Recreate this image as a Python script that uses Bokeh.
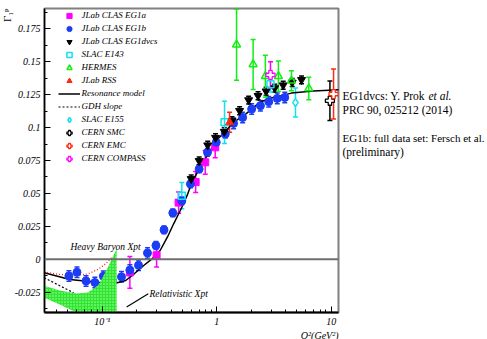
import math
from bokeh.plotting import figure
from bokeh.layouts import row
from bokeh.models import (ColumnDataSource, Whisker, TeeHead, Span, Label, Legend, LegendItem,
                          FixedTicker, CustomJSTickFormatter, Range1d, Title)
from bokeh.embed import file_html
from bokeh.resources import INLINE

# ---------------- data ----------------
eg1a_q2 = [0.174, 0.298, 0.464, 0.654, 0.793, 0.970]
eg1a_g = [-0.010, 0.003, 0.043, 0.0586, 0.0736, 0.085]
eg1a_err = [0.012, 0.009, 0.008, 0.008, 0.009, 0.008]

eg1b_q2 = [0.051, 0.060, 0.072, 0.086, 0.102, 0.123, 0.147, 0.174, 0.207, 0.248,
           0.294, 0.346, 0.413, 0.495, 0.589, 0.702, 0.830, 0.990, 1.187, 1.404,
           1.684, 2.02, 2.41, 2.85, 3.38, 3.93]
eg1b_g = [-0.0127, -0.0099, -0.0165, -0.0177, -0.0129, -0.0167, -0.0134, -0.0083, -0.0046, 0.0047,
          0.0104, 0.0223, 0.0352, 0.0443, 0.0572, 0.0686, 0.0812, 0.0888, 0.0951, 0.1032,
          0.1077, 0.1141, 0.1166, 0.1197, 0.1222, 0.1229]
eg1b_err = [0.004, 0.004, 0.004, 0.004, 0.004, 0.004, 0.004, 0.004, 0.004, 0.004,
            0.003, 0.003, 0.003, 0.003, 0.003, 0.003, 0.003, 0.003, 0.003, 0.004,
            0.004, 0.004, 0.004, 0.004, 0.004, 0.004]

dvcs_q2 = [0.598, 0.702, 0.834, 0.976, 1.164, 1.359, 1.585, 1.901, 2.298, 2.701,
           3.214, 3.808, 4.566, 5.511]
dvcs_g = [0.0610, 0.0747, 0.0866, 0.0923, 0.0969, 0.1052, 0.1128, 0.1209, 0.1242, 0.1276,
          0.1300, 0.1322, 0.1343, 0.1363]
dvcs_err = [0.003] * 14

e143_q2 = [0.495, 1.17, 2.95]
e143_g = [0.0483, 0.104, 0.133]
e143_err = [0.010, 0.016, 0.006]

hermes_q2 = [1.49, 2.08, 2.66, 3.46, 4.50, 6.38]
hermes_g = [0.163, 0.148, 0.139, 0.139, 0.1356, 0.1297]
hermes_err = [0.027, 0.019, 0.016, 0.0116, 0.0076, 0.0085]

rss_q2 = [1.295]
rss_g = [0.104]
rss_err = [0.0076]

e155_q2 = [4.88]
e155_g = [0.119]
e155_err = [0.011]

smc_q2 = [9.76]
smc_g = [0.1204]
smc_err = [0.015]

emc_q2 = [10.5]
emc_g = [0.1255]
emc_err = [0.019]

compass_q2 = [2.95]
compass_g = [0.140]
compass_err = [0.010]

res_q2 = [0.031, 0.052, 0.077, 0.10, 0.13, 0.16, 0.19, 0.23, 0.27, 0.32, 0.37, 0.42, 0.48,
          0.55, 0.60, 0.70, 0.85, 1.0, 1.19, 1.4, 1.78, 2.4, 3.0, 4.5, 7.0, 12.0]
res_g = [-0.0103, -0.0154, -0.0169, -0.0179, -0.0182, -0.0162, -0.0111, -0.0048, 0.0, 0.0066,
         0.0167, 0.0269, 0.0370, 0.0483, 0.0572, 0.0686, 0.0804, 0.0906, 0.097, 0.104,
         0.110, 0.1195, 0.1225, 0.1262, 0.1278, 0.1288]

gdh_q2 = [0.031, 0.056]
gdh_g = [-0.0141, -0.0255]

maid_q2 = [0.031, 0.0424, 0.0574, 0.0746, 0.0914, 0.1074, 0.121]
maid_g = [-0.0097, -0.0116, -0.0124, -0.0112, -0.0078, -0.0033, 0.0013]

hb_q2 = [0.0305, 0.0424, 0.0594, 0.0747, 0.0920, 0.1116, 0.1333]
hb_hi = [-0.0200, -0.0237, -0.0260, -0.0253, -0.0200, -0.0063, 0.0080]
hb_lo = [-0.0288, -0.0345, -0.0405, -0.048, -0.05, -0.05, -0.05]

rel_q2 = [0.163, 0.252]
rel_g = [-0.0364, -0.0263]

y_ticks = [-0.025, 0.0, 0.025, 0.05, 0.075, 0.1, 0.125, 0.15, 0.175]
y_minor = [-0.0375, -0.0125, 0.0125, 0.0375, 0.0625, 0.0875, 0.1125, 0.1375, 0.1625, 0.1875]
x_ticks = [0.1, 1.0, 10.0]
x_minor = [0.04, 0.05, 0.06, 0.07, 0.08, 0.09, 0.2, 0.3, 0.4, 0.5, 0.6, 0.7, 0.8, 0.9,
           2, 3, 4, 5, 6, 7, 8, 9]

# ---------------- colours ----------------
MAG = "#ff00ff"
BLUE = "#1c3cf5"
CYAN = "#10e0f0"
GREEN = "#11ee11"
RED = "#ff2a10"
BLK = "#000000"
SERIF = "Liberation Serif"

p = figure(width=340, height=339, x_axis_type="log",
           x_range=Range1d(0.0312, 11.6), y_range=Range1d(-0.0405, 0.1905),
           output_backend="svg", toolbar_location=None,
           min_border_left=44, min_border_right=2, min_border_top=8, min_border_bottom=27)
p.xgrid.visible = False
p.ygrid.visible = False
p.outline_line_color = "#808080"
p.outline_line_width = 2
p.background_fill_color = "white"
p.border_fill_color = "white"

for ax in (p.xaxis[0], p.yaxis[0]):
    ax.major_tick_in = 6
    ax.major_tick_out = 0
    ax.minor_tick_in = 3
    ax.minor_tick_out = 0
    ax.axis_line_color = "black"
    ax.major_tick_line_color = "black"
    ax.minor_tick_line_color = "black"
    ax.major_label_text_font = SERIF
    ax.major_label_text_font_style = "italic"
    ax.major_label_text_font_size = "10px"
    ax.major_label_text_color = "black"
p.yaxis[0].axis_line_width = 1.5
p.xaxis[0].axis_line_width = 2
p.yaxis[0].major_label_standoff = 4
p.xaxis[0].major_label_standoff = 3

p.yaxis[0].ticker = FixedTicker(ticks=y_ticks, minor_ticks=y_minor)
p.xaxis[0].ticker = FixedTicker(ticks=x_ticks, minor_ticks=x_minor)
p.yaxis[0].formatter = CustomJSTickFormatter(code="""
if (Math.abs(tick) < 1e-9) return "0";
return String(parseFloat(tick.toFixed(4)));
""")
p.xaxis[0].formatter = CustomJSTickFormatter(code="""
const e = Math.round(Math.log10(tick));
if (e == -1) return "10\u207b\u00b9";
if (e == 0) return "1";
if (e == 1) return "10";
return "";
""")

# axis titles, right / top aligned like ROOT
p.add_layout(Title(text="Q\u00b2(GeV\u00b2)", align="right", standoff=-4, offset=0,
                   text_font=SERIF, text_font_style="italic", text_font_size="10px",
                   text_color="black"), "below")
p.add_layout(Title(text="\u0393\u2081\u1d56", align="right", standoff=-3, offset=0,
                   text_font=SERIF, text_font_style="normal", text_font_size="11px",
                   text_color="black"), "left")

p.add_layout(Span(location=0, dimension="width", line_color="#6e6e6e", line_width=2))


def errbars(q2, g, err, color, width=1.5):
    src = ColumnDataSource(dict(x=q2, up=[a + b for a, b in zip(g, err)],
                                lo=[a - b for a, b in zip(g, err)]))
    w = Whisker(source=src, base="x", upper="up", lower="lo", dimension="height",
                line_color=color, line_width=width,
                upper_head=TeeHead(size=5, line_color=color, line_width=width),
                lower_head=TeeHead(size=5, line_color=color, line_width=width))
    p.add_layout(w)


# model curves
r_res = p.line(res_q2, res_g, line_color="black", line_width=1.5)
r_gdh = p.line(gdh_q2, gdh_g, line_color="black", line_width=1.2, line_dash="2 2")
p.line(maid_q2, maid_g, line_color="#ff2020", line_width=1.3, line_dash="1 2")
p.line(rel_q2, rel_g, line_color="black", line_width=1.2)

# data
errbars(eg1a_q2, eg1a_g, eg1a_err, MAG)
r_eg1a = p.scatter(eg1a_q2, eg1a_g, marker="square", size=7, fill_color=MAG, line_color=MAG)
errbars(eg1b_q2, eg1b_g, eg1b_err, BLUE)
r_eg1b = p.scatter(eg1b_q2, eg1b_g, marker="circle", size=8, fill_color=BLUE, line_color=BLUE)

# Heavy Baryon band (over the lowest points, as in the reference)
band_x = hb_q2 + hb_q2[::-1]
band_y = hb_hi + hb_lo[::-1]
p.patch(band_x, band_y, fill_color="#2ee62e", line_color=None,
        hatch_pattern="dot", hatch_color="#c8ffc8", hatch_scale=3, hatch_alpha=0.9)

errbars(dvcs_q2, dvcs_g, dvcs_err, BLK)
r_dvcs = p.scatter(dvcs_q2, dvcs_g, marker="inverted_triangle", size=8, fill_color=BLK, line_color=BLK)
errbars(e143_q2, e143_g, e143_err, CYAN)
r_e143 = p.scatter(e143_q2, e143_g, marker="square", size=7, fill_color=None, line_color=CYAN, line_width=1.5)
errbars(hermes_q2, hermes_g, hermes_err, GREEN)
r_hermes = p.scatter(hermes_q2, hermes_g, marker="triangle", size=8, fill_color=None, line_color=GREEN, line_width=1.5)
errbars(rss_q2, rss_g, rss_err, RED)
r_rss = p.scatter(rss_q2, rss_g, marker="triangle", size=8, fill_color=RED, line_color=RED)
errbars(e155_q2, e155_g, e155_err, CYAN)
r_e155 = p.scatter(e155_q2, e155_g, marker="diamond", size=8, fill_color="white", line_color=CYAN, line_width=1.5)
errbars(smc_q2, smc_g, smc_err, BLK)
r_smc = p.scatter(smc_q2, smc_g, marker="plus", size=9, fill_color="white", line_color=BLK, line_width=1.3)
errbars(emc_q2, emc_g, emc_err, RED)
r_emc = p.scatter(emc_q2, emc_g, marker="plus", size=9, fill_color="white", line_color=RED, line_width=1.3)
errbars(compass_q2, compass_g, compass_err, MAG)
r_compass = p.scatter(compass_q2, compass_g, marker="plus", size=9, fill_color="white", line_color=MAG, line_width=1.3)

items = [
    LegendItem(label="JLab CLAS EG1a", renderers=[r_eg1a]),
    LegendItem(label="JLab CLAS EG1b", renderers=[r_eg1b]),
    LegendItem(label="JLab CLAS EG1dvcs", renderers=[r_dvcs]),
    LegendItem(label="SLAC E143", renderers=[r_e143]),
    LegendItem(label="HERMES", renderers=[r_hermes]),
    LegendItem(label="JLab RSS", renderers=[r_rss]),
    LegendItem(label="Resonance model", renderers=[r_res]),
    LegendItem(label="GDH slope", renderers=[r_gdh]),
    LegendItem(label="SLAC E155", renderers=[r_e155]),
    LegendItem(label="CERN SMC", renderers=[r_smc]),
    LegendItem(label="CERN EMC", renderers=[r_emc]),
    LegendItem(label="CERN COMPASS", renderers=[r_compass]),
]
legend = Legend(items=items, location=(13.5, 147.5), margin=0, padding=0,
                glyph_width=22, glyph_height=13, label_height=13, spacing=0,
                label_standoff=2, label_text_font=SERIF, label_text_font_style="italic",
                label_text_font_size="9px", label_text_color="black",
                border_line_alpha=0, background_fill_alpha=0)
p.add_layout(legend)


def lab(fig, x, y, text, size="11.5px", style="normal", align="left"):
    fig.add_layout(Label(x=x, y=y, x_units="screen", y_units="screen", text=text,
                         text_font=SERIF, text_font_size=size, text_font_style=style,
                         text_align=align, text_baseline="middle", text_color="black"))


lab(p, 26, 66, "Heavy Baryon Xpt", size="9.5px", style="italic")
lab(p, 105, 19, "Relativistic Xpt", size="9.5px", style="italic")

# side panel holding the reference notes to the right of the frame
q = figure(width=147, height=339, x_range=Range1d(0, 1), y_range=Range1d(0, 1),
           output_backend="svg", toolbar_location=None,
           min_border_left=0, min_border_right=0, min_border_top=0, min_border_bottom=0)
q.frame_align = False
q.axis.visible = False
q.xgrid.visible = False
q.ygrid.visible = False
q.outline_line_color = None
q.background_fill_color = "white"
q.border_fill_color = "white"

lab(q, 2, 244, "EG1dvcs: Y. Prok ")
lab(q, 88, 244, "et al.", style="italic")
lab(q, 2, 229.5, "PRC 90, 025212 (2014)")
lab(q, 2, 201.5, "EG1b: full data set: Fersch et al.", size="11px")
lab(q, 2, 187.5, "(preliminary)")

layout = row(p, q, spacing=0)
open("out.html", "w").write(file_html(layout, INLINE))
